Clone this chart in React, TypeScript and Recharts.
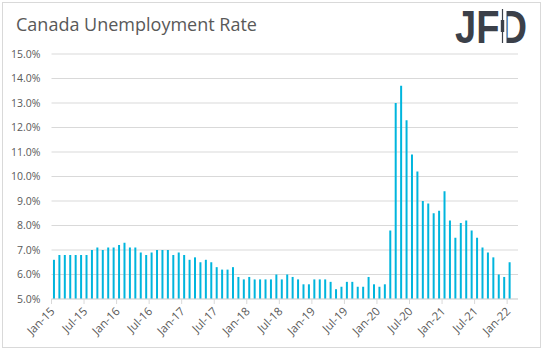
import React from 'react';
import { BarChart, Bar, XAxis, YAxis, CartesianGrid } from 'recharts';

const years = ['15', '16', '17', '18', '19', '20', '21', '22'];
const monthNames = ['Jan', 'Feb', 'Mar', 'Apr', 'May', 'Jun', 'Jul', 'Aug', 'Sep', 'Oct', 'Nov', 'Dec'];

const rate2015 = [6.6, 6.8, 6.8, 6.8, 6.8, 6.8, 6.8, 7.0, 7.1, 7.0, 7.1, 7.1];
const rate2016 = [7.2, 7.3, 7.1, 7.1, 6.9, 6.8, 6.9, 7.0, 7.0, 7.0, 6.8, 6.9];
const rate2017 = [6.8, 6.6, 6.7, 6.5, 6.6, 6.5, 6.3, 6.2, 6.2, 6.3, 5.9, 5.8];
const rate2018 = [5.9, 5.8, 5.8, 5.8, 5.8, 6.0, 5.8, 6.0, 5.9, 5.8, 5.6, 5.6];
const rate2019 = [5.8, 5.8, 5.8, 5.7, 5.4, 5.5, 5.7, 5.7, 5.5, 5.5, 5.9, 5.6];
const rate2020 = [5.5, 5.6, 7.8, 13.0, 13.7, 12.3, 10.9, 10.2, 9.0, 8.9, 8.5, 8.6];
const rate2021 = [9.4, 8.2, 7.5, 8.1, 8.2, 7.8, 7.5, 7.1, 6.9, 6.7, 6.0, 5.9];
const rate2022 = [6.5, null];

const yTicks = [5, 6, 7, 8, 9, 10, 11, 12, 13, 14, 15];

const allRates: (number | null)[] = [
  ...rate2015, ...rate2016, ...rate2017, ...rate2018,
  ...rate2019, ...rate2020, ...rate2021, ...rate2022,
];

const data = allRates.map((v, i) => ({
  month: `${monthNames[i % 12]}-${years[Math.floor(i / 12)]}`,
  rate: v,
}));

const FONT = '"Open Sans", "Liberation Sans", sans-serif';
const TEXT = '#595959';
const GRID = '#d9d9d9';
const LOGO = '#3b4049';

const XTick = (props: any) => {
  const { x, y, payload } = props;
  const off = payload && typeof payload.offset === 'number' ? payload.offset : 0;
  const bx = x - off;
  return (
    <g>
      <line x1={bx} y1={y} x2={bx} y2={y + 5} stroke={GRID} strokeWidth={1} />
      <text
        x={bx + 4}
        y={y + 13}
        transform={`rotate(-45, ${bx + 4}, ${y + 13})`}
        textAnchor="end"
        fontSize={11.5}
        fontFamily={FONT}
        fill={TEXT}
      >
        {payload.value}
      </text>
    </g>
  );
};

export default function App() {
  return (
    <div style={{ position: 'absolute', left: 0, top: 0, width: 543, height: 351, background: '#fff' }}>
      <div
        style={{
          position: 'absolute', left: 2, top: 2, width: 539, height: 346,
          boxSizing: 'border-box', border: `1px solid ${GRID}`,
        }}
      />
      <div style={{ position: 'absolute', left: 0, top: 0 }}>
        <BarChart
          width={543}
          height={351}
          data={data}
          margin={{ top: 54, right: 25, bottom: 0, left: 0 }}
          barCategoryGap="27%"
        >
          <CartesianGrid vertical={false} stroke={GRID} strokeWidth={1} />
          <XAxis
            dataKey="month"
            interval={5}
            height={52}
            tickSize={0}
            tickMargin={0}
            tickLine={false}
            axisLine={{ stroke: GRID }}
            tick={<XTick />}
          />
          <YAxis
            domain={[5, 15]}
            ticks={yTicks}
            width={51.5}
            tickLine={false}
            axisLine={false}
            tickSize={0}
            tickMargin={11}
            tickFormatter={(v: number) => `${v.toFixed(1)}%`}
            tick={{ fontSize: 10.5, fontFamily: FONT, fill: TEXT }}
            allowDataOverflow
          />
          <Bar dataKey="rate" fill="#00b5dd" isAnimationActive={false} />
        </BarChart>
      </div>
      <svg
        width={543}
        height={351}
        style={{ position: 'absolute', left: 0, top: 0, pointerEvents: 'none' }}
      >
        <text x={16} y={31} fontSize={18} fontFamily={FONT} fill={TEXT}>
          Canada Unemployment Rate
        </text>
        <text
          x={455}
          y={43}
          fontSize={47}
          fontWeight={700}
          fontFamily='"Liberation Sans", Arial, sans-serif'
          fill={LOGO}
          textLength={72}
          lengthAdjust="spacingAndGlyphs"
        >
          JFD
        </text>
        <rect x={499} y={7} width={7.5} height={38} fill="#fff" />
        <line x1={502.5} y1={9} x2={502.5} y2={43} stroke={LOGO} strokeWidth={1.2} />
        <rect x={500.8} y={20} width={3.4} height={12} fill={LOGO} />
      </svg>
    </div>
  );
}
